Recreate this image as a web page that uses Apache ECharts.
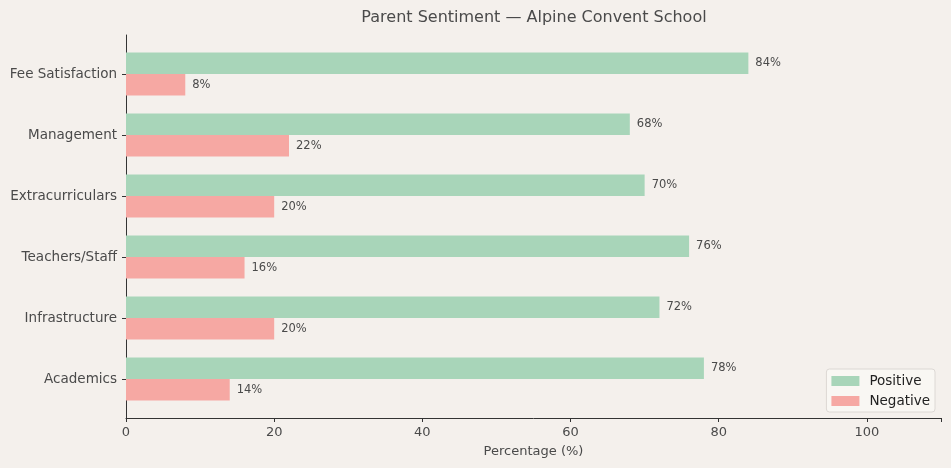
<!DOCTYPE html>
<html>
<head>
<meta charset="utf-8">
<script src="https://cdn.jsdelivr.net/npm/echarts@6/dist/echarts.min.js"></script>
<style>html,body{margin:0;padding:0;background:#f4f0ec;}#c{width:951px;height:468px;}</style>
</head>
<body>
<div id="c"></div>
<script>
const categories = ['Academics', 'Infrastructure', 'Teachers/Staff', 'Extracurriculars', 'Management', 'Fee Satisfaction'];
const positive = [78, 72, 76, 70, 68, 84];
const negative = [14, 20, 16, 20, 22, 8];
const xTicks = [0, 20, 40, 60, 80, 100];

const chart = echarts.init(document.getElementById('c'), null, {renderer: 'canvas'});
const font = 'DejaVu Sans';
const txt = '#4a4a4a';
const axisCol = '#333333';
const labelStyle = {show: true, position: 'right', distance: 7, formatter: p => p.value + '%', color: txt, fontSize: 11.5, fontFamily: font};

chart.setOption({
  backgroundColor: '#f4f0ec',
  animation: false,
  textStyle: {fontFamily: font},
  title: {text: 'Parent Sentiment — Alpine Convent School', left: 529, textAlign: 'center', top: 5,
    textStyle: {fontSize: 16, fontWeight: 'normal', color: txt, fontFamily: font}},
  legend: {
    orient: 'vertical', right: 16, bottom: 56, itemWidth: 28, itemHeight: 10, itemGap: 6,
    icon: 'rect',
    backgroundColor: 'rgba(250,247,244,0.9)', borderColor: '#dcd8d4', borderWidth: 1, borderRadius: 3,
    padding: [5, 5, 4, 5],
    textStyle: {fontSize: 13.5, color: '#222', fontFamily: font, padding: [0, 0, 0, 5]},
    data: ['Positive', 'Negative']
  },
  grid: [
    {left: 126, right: 10, top: 43.5, bottom: 58.5},
    {left: 126, right: 10, top: 35, bottom: 50}
  ],
  xAxis: [
    {gridIndex: 0, type: 'value', min: 0, max: 110, show: false},
    {gridIndex: 1, type: 'value', min: 0, max: 110, interval: 20,
      name: 'Percentage (%)', nameLocation: 'middle', nameGap: 27,
      nameTextStyle: {fontSize: 13, color: txt, fontFamily: font},
      axisLine: {show: true, lineStyle: {color: axisCol, width: 1}},
      axisTick: {show: true, length: 4, lineStyle: {color: axisCol}},
      axisLabel: {fontSize: 13, color: txt, fontFamily: font, margin: 8,
        formatter: v => xTicks.includes(v) ? String(v) : ''},
      splitLine: {show: false}}
  ],
  yAxis: [
    {gridIndex: 0, type: 'category', data: categories,
      axisLine: {show: false},
      axisTick: {show: true, alignWithLabel: true, length: 4, inside: false, lineStyle: {color: axisCol}},
      axisLabel: {fontSize: 13.5, color: txt, fontFamily: font, margin: 9}},
    {gridIndex: 1, type: 'value', min: 0, max: 1,
      axisLine: {show: true, lineStyle: {color: axisCol, width: 1}},
      axisTick: {show: false}, axisLabel: {show: false}, splitLine: {show: false}}
  ],
  series: [
    {name: 'Positive', type: 'bar', xAxisIndex: 0, yAxisIndex: 0, data: positive,
      barWidth: 21.4, barGap: '0%', itemStyle: {color: '#a8d5b9'}, label: labelStyle},
    {name: 'Negative', type: 'bar', xAxisIndex: 0, yAxisIndex: 0, data: negative,
      barWidth: 21.4, barGap: '0%', itemStyle: {color: '#f6a8a3'}, label: labelStyle}
  ]
});
</script>
</body>
</html>
